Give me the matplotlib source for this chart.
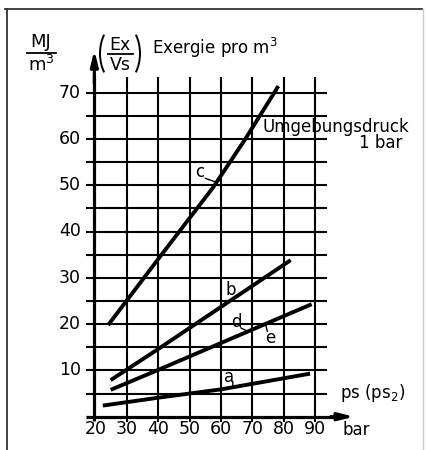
import numpy as np
import matplotlib
matplotlib.use("Agg")
import matplotlib.pyplot as plt
from matplotlib.patches import Arc

plt.rcParams['font.family'] = ['DejaVu Sans']
plt.rcParams['mathtext.fontset'] = 'dejavusans'

# ---------------- data ----------------
x_ticks = [20, 30, 40, 50, 60, 70, 80, 90]
y_ticks = [10, 20, 30, 40, 50, 60, 70]
y_grid = [5, 10, 15, 20, 25, 30, 35, 40, 45, 50, 55, 60, 65, 70]
x_grid = [30, 40, 50, 60, 70, 80, 90]

c_x = [24.1, 41.1, 57.5, 67.8, 78.3]
c_y = [19.8, 35.0, 49.5, 60.0, 71.4]
b_x = [24.9, 40.0, 82.2]
b_y = [7.9, 14.6, 33.8]
de_x = [24.9, 40.0, 88.9]
de_y = [5.8, 10.1, 24.3]
a_x = [22.4, 40.0, 60.0, 88.4]
a_y = [2.4, 4.1, 5.9, 9.3]

curves = {'c': (c_x, c_y), 'b': (b_x, b_y), 'de': (de_x, de_y), 'a': (a_x, a_y)}

# ---------------- figure ----------------
W, H = 428, 450
fig = plt.figure(figsize=(W / 100, H / 100), dpi=100)
ax = fig.add_axes([0, 0, 1, 1])
# pixel mapping: x_px = 95.3 + (bar-20)*3.14 ; y_px = 416.7 - val*4.63
ax.set_xlim(20 - 95.3 / 3.14, 20 + (W - 95.3) / 3.14)
ax.set_ylim((416.7 - H) / 4.63, 416.7 / 4.63)
ax.axis('off')

# overlay in pixel coordinates for decorations
ov = fig.add_axes([0, 0, 1, 1], zorder=3)
ov.set_xlim(0, W)
ov.set_ylim(H, 0)
ov.axis('off')
ov.patch.set_alpha(0)

# frame
ov.plot([7, 7], [9, H], color='#333333', lw=1.3)
ov.plot([5, 422], [9, 9], color='#333333', lw=1.3)
ov.plot([423, 423], [9, H], color='#cccccc', lw=1.0)

# grid
ax.hlines(y_grid, 17.0, 93.7, color='black', lw=1.5)
ax.vlines(x_grid, -1.2, 73.3, color='black', lw=1.5)

# axes with arrows
ax.plot([19.7, 19.7], [-1.0, 74], color='black', lw=2.3, solid_capstyle='butt')
ax.annotate('', xy=(19.7, 79.2), xytext=(19.7, 72),
            arrowprops=dict(arrowstyle='-|>,head_length=0.9,head_width=0.22', lw=2.3, color='black',
                            shrinkA=0, shrinkB=0))
ax.plot([17.0, 97], [0, 0], color='black', lw=2.3, solid_capstyle='butt')
ax.annotate('', xy=(102.5, 0), xytext=(95, 0),
            arrowprops=dict(arrowstyle='-|>,head_length=0.9,head_width=0.22', lw=2.3, color='black',
                            shrinkA=0, shrinkB=0))

# curves
for k, (xs, ys) in curves.items():
    ax.plot(xs, ys, color='black', lw=2.8, solid_capstyle='butt')

# tick labels
for v in y_ticks:
    ax.text(15.4, v, str(v), ha='right', va='center', fontsize=12.5)
for v in x_ticks:
    ax.text(v, -2.66, str(v), ha='center', va='center', fontsize=12.5)

# curve labels with leaders
def on(k, xb):
    xs, ys = curves[k]
    return (xb, float(np.interp(xb, xs, ys)))

ax.text(53.3, 52.9, 'c', ha='center', va='center', fontsize=12)
ax.annotate('', xy=on('c', 58.6), xytext=(55.0, 51.5),
            arrowprops=dict(arrowstyle='-', lw=1.0, color='black', shrinkA=0, shrinkB=0))
ax.text(63.0, 27.4, 'b', ha='center', va='center', fontsize=12)
ax.annotate('', xy=on('b', 65.6), xytext=(64.3, 25.9),
            arrowprops=dict(arrowstyle='-', lw=1.0, color='black', shrinkA=0, shrinkB=0))
ax.text(65.0, 20.5, 'd', ha='center', va='center', fontsize=12)
ax.annotate('', xy=on('de', 68.6), xytext=(66.3, 19.2),
            arrowprops=dict(arrowstyle='-', lw=1.0, color='black', shrinkA=0, shrinkB=0))
ax.text(75.8, 17.0, 'e', ha='center', va='center', fontsize=12)
ax.annotate('', xy=on('de', 74.2), xytext=(74.8, 18.4),
            arrowprops=dict(arrowstyle='-', lw=1.0, color='black', shrinkA=0, shrinkB=0))
ax.text(62.6, 8.6, 'a', ha='center', va='center', fontsize=12)
ax.annotate('', xy=on('a', 63.8), xytext=(63.8, 7.6),
            arrowprops=dict(arrowstyle='-', lw=1.0, color='black', shrinkA=0, shrinkB=0))

# unit fraction MJ / m^3
ov.text(41, 47, 'MJ', ha='center', va='baseline', fontsize=13)
ov.plot([27, 56], [52.5, 52.5], color='black', lw=1.3)
ov.text(41, 71, r'm$^3$', ha='center', va='baseline', fontsize=13)

# (Ex / Vs)
ov.text(120, 50, 'Ex', ha='center', va='baseline', fontsize=12.5)
ov.plot([108, 133], [53.5, 53.5], color='black', lw=1.3)
ov.text(120, 70, 'Vs', ha='center', va='baseline', fontsize=12.5)
ov.add_patch(Arc((120, 53.5), 40, 61.4, theta1=130, theta2=230, color='black', lw=1.4))
ov.add_patch(Arc((120, 53.5), 40, 61.4, theta1=-50, theta2=50, color='black', lw=1.4))

# texts
ov.text(152, 53.5, r'Exergie pro m$^3$', ha='left', va='baseline', fontsize=12)
ov.text(263, 131.7, 'Umgebungsdruck', ha='left', va='baseline', fontsize=12)
ov.text(402, 148.3, '1 bar', ha='right', va='baseline', fontsize=12)
ov.text(340, 398.3, r'ps (ps$_2$)', ha='left', va='baseline', fontsize=12)
ov.text(343, 435, 'bar', ha='left', va='baseline', fontsize=12)

fig.savefig('out.png', dpi=100, facecolor='white')
